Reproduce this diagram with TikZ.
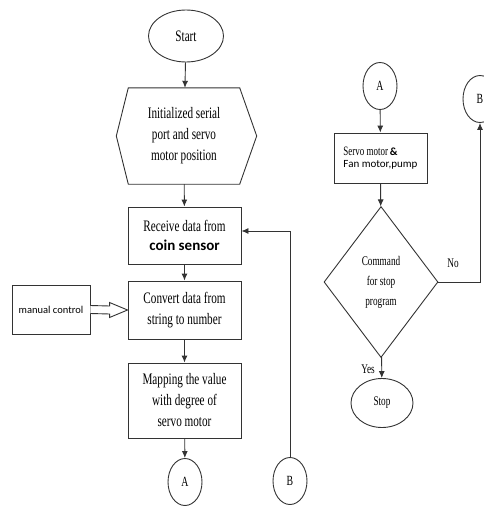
\documentclass[tikz,border=0pt]{standalone}
\usepackage{fontspec}
\setmainfont{Liberation Serif}[FakeStretch=0.7]
\newfontfamily\calib{Carlito}
\usetikzlibrary{shapes.geometric,arrows.meta,calc}
\tikzset{
  line/.style={draw=black!80, line width=0.9pt},
  arr/.style={line, -{Latex[length=7pt,width=6pt]}},
  term/.style={ellipse, line, inner sep=0pt},
  proc/.style={rectangle, line, inner sep=2pt, align=center},
  conn/.style={ellipse, line, inner sep=0pt, minimum width=34pt, minimum height=47pt, font=\fontsize{14}{15}\selectfont},
  big/.style={font=\fontsize{16}{21}\selectfont},
  small/.style={font=\fontsize{13.2}{20}\selectfont},
}
\begin{document}
\begin{tikzpicture}[x=1pt,y=-1pt]
\useasboundingbox (0,0) rectangle (484,506);
% left column
\node[term, big, minimum width=75pt, minimum height=52pt] (start) at (186,36) {Start};
\node[rectangle, inner sep=0pt, minimum width=111pt, minimum height=96pt, align=center, big] (hex) at (184,136)
  {Initialized serial\\port and servo\\motor position};
\draw[line] (hex.north west) -- (hex.north east) -- ([xshift=17pt]hex.east) -- (hex.south east)
  -- (hex.south west) -- ([xshift=-12pt]hex.west) -- cycle;
\node[proc, big, minimum width=113pt, minimum height=57pt] (recv) at (184.5,235.5)
  {Receive data from\\[-2pt]{\calib\bfseries\fontsize{15}{18}\selectfont coin sensor}};
\node[proc, big, minimum width=113pt, minimum height=58pt] (conv) at (184.5,310)
  {Convert data from\\string to number};
\node[proc, minimum width=78pt, minimum height=49pt, font=\calib\fontsize{10.5}{12}\selectfont] (man) at (51,309.5) {manual control};
\node[proc, big, minimum width=113pt, minimum height=75pt] (map) at (184.5,400.5)
  {Mapping the value\\with degree of\\servo motor};
\node[conn] (A) at (185,482) {A};
\node[conn] (B) at (290,481) {B};
\draw[arr] (start) -- (hex);
\draw[arr] (hex) -- (recv);
\draw[arr] (recv) -- (conv);
\draw[arr] (conv) -- (map);
\draw[arr] (map) -- (A);
\draw[arr] (B.north) |- ([yshift=4.5pt]recv.east);
% hollow arrow
\draw[line, fill=white] ($(man.east)+(0,-4)$) -- ($(conv.west)+(-18,-4)$) -- ($(conv.west)+(-18,-7.5)$)
  -- (conv.west) -- ($(conv.west)+(-18,7.5)$) -- ($(conv.west)+(-18,4)$) -- ($(man.east)+(0,4)$);
% right column
\node[conn] (A2) at (380,86) {A};
\node[proc, minimum width=93pt, minimum height=50pt, align=left, inner sep=0pt] (servo) at (380.5,158)
  {{\fontsize{12.8}{20}\selectfont Servo motor} {\calib\bfseries\fontsize{11}{20}\selectfont \&}\\
   {\calib\fontsize{11}{13}\selectfont Fan motor,pump}};
\node[diamond, line, small, minimum width=114pt, minimum height=151pt, inner sep=0pt, align=center] (dec) at (381,282)
  {Command\\for stop\\program};
\node[term, small, minimum width=62pt, minimum height=49pt] (stop) at (382,403) {Stop};
\node[conn] (B2) at (480,99) {B};
\draw[arr] (A2) -- (servo);
\draw[arr] (servo) -- (dec);
\draw[arr] (dec) -- (stop);
\draw[arr] (dec.east) -| (B2.south);
\node[small, inner sep=0pt] (no) at (453,263) {No};
\node[small, inner sep=0pt] (yes) at (368,369) {Yes};
\end{tikzpicture}
\end{document}
